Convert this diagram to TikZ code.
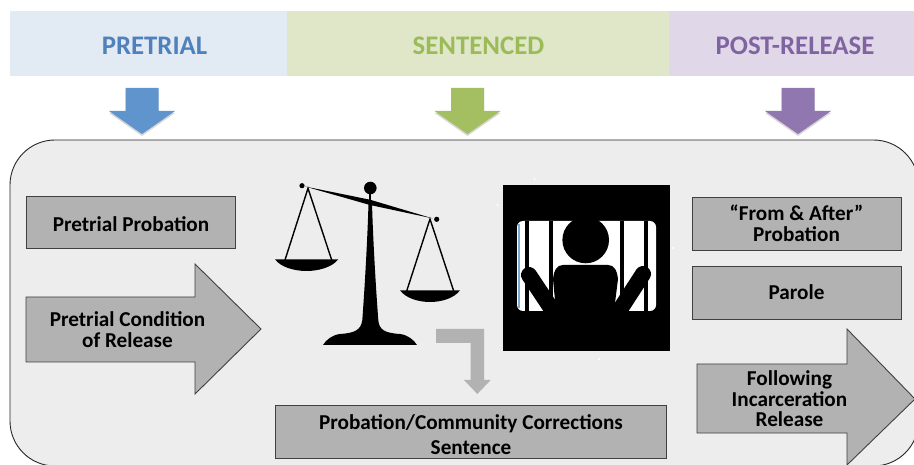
\documentclass[tikz,border=0pt]{standalone}
\usepackage{fontspec}
\setmainfont{Carlito}
\definecolor{pblue}{HTML}{5F95CC}
\definecolor{pgreen}{HTML}{A3BF62}
\definecolor{ppurple}{HTML}{9177B0}
\definecolor{tblue}{HTML}{4F81BD}
\definecolor{tgreen}{HTML}{9BBB59}
\definecolor{tpurple}{HTML}{8064A2}
\definecolor{hblue}{HTML}{E2EAF4}
\definecolor{hgreen}{HTML}{DFE7C8}
\definecolor{hpurple}{HTML}{E0D8E8}
\definecolor{panelc}{HTML}{EDEDED}
\definecolor{boxc}{HTML}{B2B2B2}
\tikzset{
  x=1pt,y=-1pt,
  header/.style={inner sep=0pt,font=\fontsize{26.8}{27}\selectfont\bfseries},
  greybox/.style={draw=black!75,line width=0.9pt,fill=boxc,align=center,inner sep=0pt},
  boxlabel/.style={align=center,inner sep=0pt,font=\fontsize{21.2}{20.5}\selectfont\bfseries,text=black},
  rope/.style={draw=black,line width=1.4pt},
  dshadow/.style={fill=black,opacity=0.16,draw=none}
}
\begin{document}
\begin{tikzpicture}
\useasboundingbox (0,0) rectangle (914,465);
\clip (0,0) rectangle (914,465);
\fill[white] (0,0) rectangle (914,465);
% headers
\fill[hblue] (10,11) rectangle (287,76);
\fill[hgreen] (287,11) rectangle (669,76);
\fill[hpurple] (669,11) rectangle (914,76);
\node[header,text=tblue] (h1) at (154.5,46) {PRETRIAL};
\node[header,text=tgreen] (h2) at (478.5,46) {SENTENCED};
\node[header,text=tpurple] (h3) at (795,46) {POST-RELEASE};
% panel
\draw[fill=panelc,draw=black!85,line width=0.9pt,rounded corners=45pt] (10,140) rectangle (918.5,466);
% down arrows
\foreach \cx/\col in {142/pblue,467.5/pgreen,798/ppurple}{
  \fill[dshadow] (\cx-16.5,90)--(\cx+16.5,90)--(\cx+16.5,113)--(\cx+33,113)--(\cx,136)--(\cx-33,113)--(\cx-16.5,113)--cycle;
  \fill[\col] (\cx-16.5,88)--(\cx+16.5,88)--(\cx+16.5,111)--(\cx+33,111)--(\cx,134)--(\cx-33,111)--(\cx-16.5,111)--cycle;
}
% boxes
\node[greybox,minimum width=209.5pt,minimum height=52.5pt] (pp) at (131,222.5) {};
\node[boxlabel] (ppt) at (131,224) {Pretrial Probation};
\draw[draw=black!75,line width=0.9pt,fill=boxc] (26,297)--(195,297)--(195,264)--(261,329)--(195,394)--(195,362)--(26,362)--cycle;
\node[boxlabel] (pc) at (127.5,329.5) {Pretrial Condition\\of Release};
\node[greybox,minimum width=209pt,minimum height=53pt] (fa) at (796.5,223.5) {};
\node[boxlabel] (fat) at (796.5,223.5) {“From \& After”\\Probation};
\node[greybox,minimum width=209pt,minimum height=53pt] (pa) at (796.5,292.5) {};
\node[boxlabel] (pat) at (796.5,292.5) {Parole};
\draw[draw=black!75,line width=0.9pt,fill=boxc] (697,364)--(847,364)--(847,329)--(915,399)--(847,465)--(847,433)--(697,433)--cycle;
\node[boxlabel] (fi) at (789.5,399) {Following\\Incarceration\\Release};
\node[greybox,minimum width=391.5pt,minimum height=53.5pt] (pc2) at (471,432) {};
\node[boxlabel,font=\fontsize{21.2}{24.5}\selectfont\bfseries] (pc2t) at (471,434.5) {Probation/Community Corrections\\Sentence};
% bent arrow
\fill[boxc] (436,329)--(484,329)--(484,380)--(490.7,380)--(477.3,394)--(464,380)--(470.7,380)--(470.7,343)--(436,343)--cycle;
% scales
\fill[black] (370.3,188) circle (6.3);
\fill[black] (369.3,190) rectangle (371.3,202);
\fill[black] (302,185.7) circle (2.6);
\fill[black] (436.7,219.3) circle (2.6);
\fill[black] (305,186.5) -- (370,199.7) -- (433,218.5) -- (370,205) -- cycle;
\fill[black] (368.5,203) -- (372,203) .. controls (373,240) and (376,290) .. (378.3,320) .. controls (379,330) and (385,333) .. (400,334) .. controls (408,335) and (414,340) .. (417,345) -- (323,345) .. controls (326,340) and (332,335) .. (340,334) .. controls (355,333) and (361,330) .. (362.3,320) .. controls (364.5,290) and (367.5,240) .. (368.5,203) -- cycle;
\draw[rope] (285,260) -- (308,188.3) -- (331.7,260);
\draw[rope] (406.7,291) -- (430,219) -- (453.7,291);
\fill[black] (275,259.3) -- (338.3,259.3) .. controls (332,267.5) and (318,271) .. (306.6,271) .. controls (295,271) and (281,267.5) .. (275,259.3) -- cycle;
\fill[black] (400,290.3) -- (460,290.3) .. controls (454,298.5) and (441,302) .. (430,302) .. controls (419,302) and (406,298.5) .. (400,290.3) -- cycle;
% prisoner
\fill[black] (503,185) rectangle (670,351);
\fill[white,rounded corners=6pt] (517,221) rectangle (656,311);
\fill[pblue!80] (517.6,224) rectangle (519.6,308);
\foreach \bl/\br in {525/529,549/553,620/624,644/648}{ \fill[black] (\bl,221) rectangle (\br,311); }
\fill[black] (585.7,240) circle (23.3);
\fill[black] (556,311) -- (553,279) .. controls (554,270) and (557,265) .. (563,265) -- (608,265) .. controls (614,265) and (617,270) .. (618,279) -- (614,311) -- cycle;
\fill[black] (548,311) rectangle (622,305);
\draw[black,line width=16pt,line cap=round] (529,275) -- (551,308);
\draw[black,line width=16pt,line cap=round] (643,274) -- (621,308);
\fill[black] (517,311) rectangle (656,325);
\foreach \px/\py in {534.5/179,497.5/205,673/248,599/359}{ \fill[white] (\px,\py) circle (1.2); }
\end{tikzpicture}
\end{document}
